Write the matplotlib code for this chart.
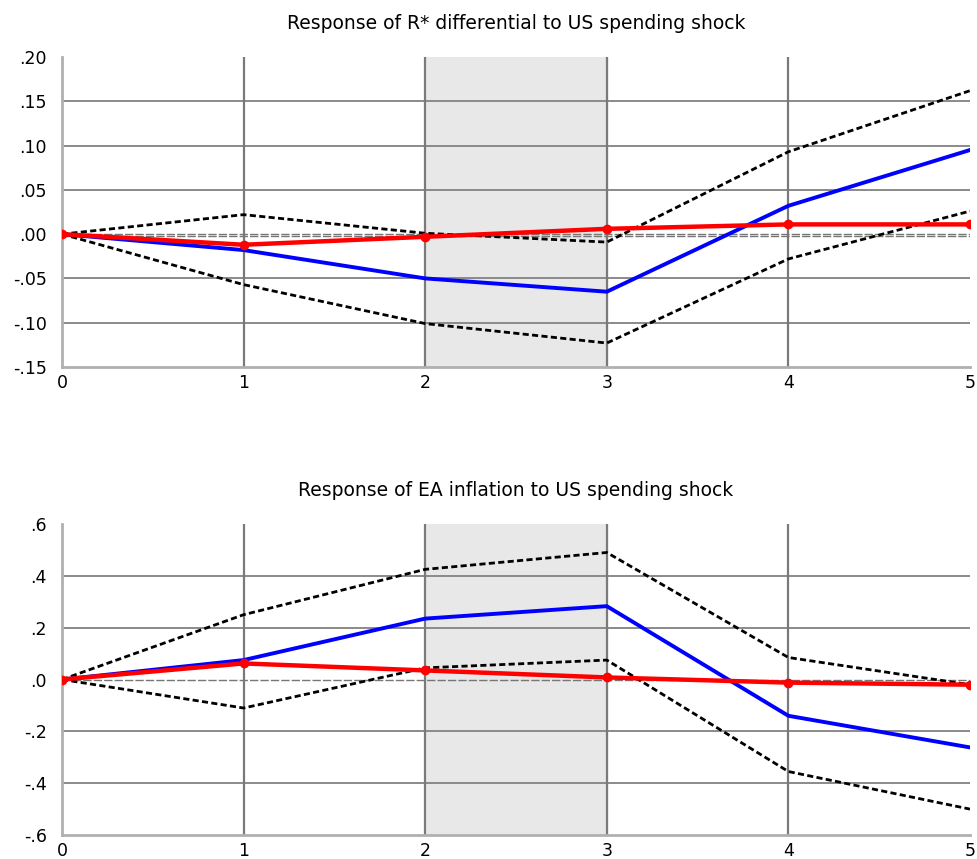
import numpy as np
import matplotlib
matplotlib.use("Agg")
import matplotlib.pyplot as plt

# horizon (quarters)
h = [0, 1, 2, 3, 4, 5]

# Response of R* differential
rs_blue = [0.0, -0.018, -0.050, -0.065, 0.032, 0.095]
rs_red = [0.0, -0.012, -0.003, 0.006, 0.011, 0.011]
rs_up = [0.0, 0.022, 0.001, -0.009, 0.093, 0.162]
rs_lo = [0.0, -0.057, -0.101, -0.123, -0.028, 0.026]
rs_ticks = [-0.15, -0.10, -0.05, 0.0, 0.05, 0.10, 0.15, 0.20]
rs_labels = ["-.15", "-.10", "-.05", ".00", ".05", ".10", ".15", ".20"]

# Response of EA inflation
inf_blue = [0.0, 0.075, 0.235, 0.283, -0.140, -0.262]
inf_red = [0.0, 0.062, 0.035, 0.008, -0.012, -0.020]
inf_up = [0.0, 0.250, 0.425, 0.490, 0.085, -0.020]
inf_lo = [0.0, -0.110, 0.045, 0.075, -0.355, -0.500]
inf_ticks = [-0.6, -0.4, -0.2, 0.0, 0.2, 0.4, 0.6]
inf_labels = ["-.6", "-.4", "-.2", ".0", ".2", ".4", ".6"]

shade = (2, 3)

fig = plt.figure(figsize=(9.78, 8.59), dpi=100)
ax1 = fig.add_axes([0.0634, 0.5728, 0.9284, 0.3608])
ax2 = fig.add_axes([0.0634, 0.0279, 0.9284, 0.3621])


def draw(ax, blue, red, up, lo, ticks, labels, title, double_zero):
    ax.axvspan(shade[0], shade[1], color="#e8e8e8", zorder=0)
    for t in ticks[1:-1]:
        if t != 0:
            ax.axhline(t, color="#8a8a8a", lw=1.4, zorder=1)
    for x in h[1:-1]:
        ax.axvline(x, color="#7a7a7a", lw=1.6, zorder=1)
    ax.axhline(0, color="#777777", lw=1.0, ls=(0, (6, 1.5)), zorder=2)
    if double_zero:
        ax.axhline(-0.002, color="#777777", lw=1.0, ls=(0, (6, 1.5)), zorder=2)
    ax.plot(h, up, color="black", lw=2, ls=(0, (2.2, 1.2)), zorder=3)
    ax.plot(h, lo, color="black", lw=2, ls=(0, (2.2, 1.2)), zorder=3)
    ax.plot(h, blue, color="#0000ff", lw=2.8, zorder=4)
    ax.plot(h, red, color="#ff0000", lw=3.2, marker="o", ms=6, zorder=5)
    ax.set_xlim(0, 5)
    ax.set_ylim(ticks[0], ticks[-1])
    ax.set_yticks(ticks)
    ax.set_yticklabels(labels)
    ax.set_xticks(h)
    for s in ["top", "right"]:
        ax.spines[s].set_visible(False)
    for s in ["left", "bottom"]:
        ax.spines[s].set_color("#b0b0b0")
        ax.spines[s].set_linewidth(2)
    ax.tick_params(axis="y", length=0, labelsize=12.5, pad=11)
    ax.tick_params(axis="x", length=0, labelsize=12.5, pad=5)
    ax.set_title(title, fontsize=13.5, pad=20)


draw(ax1, rs_blue, rs_red, rs_up, rs_lo, rs_ticks, rs_labels,
     "Response of R* differential to US spending shock", True)
draw(ax2, inf_blue, inf_red, inf_up, inf_lo, inf_ticks, inf_labels,
     "Response of EA inflation to US spending shock", False)

fig.savefig("out.png", dpi=100)
